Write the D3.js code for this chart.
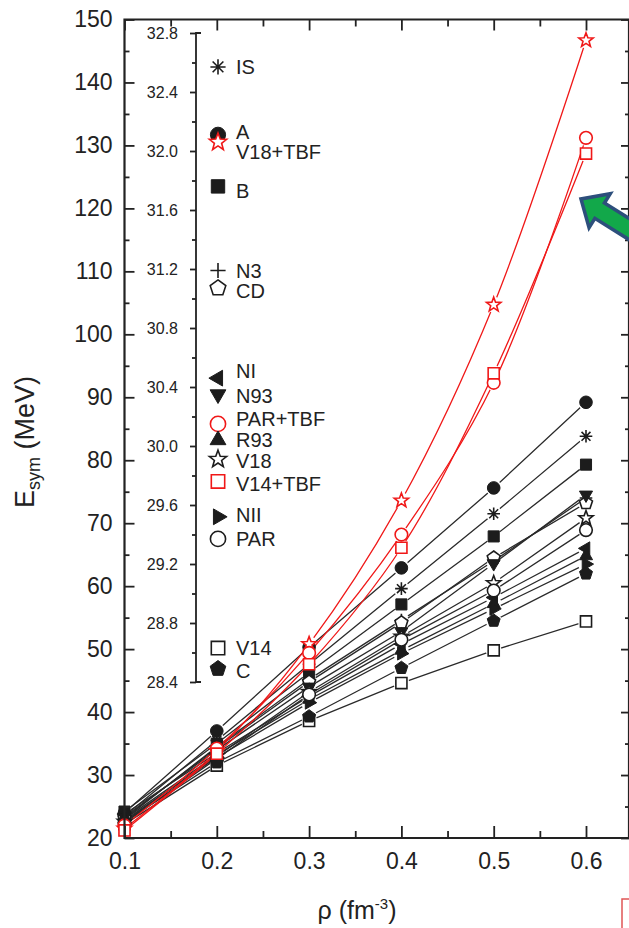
<!DOCTYPE html>
<html><head><meta charset="utf-8">
<script src="https://cdn.jsdelivr.net/npm/d3@7"></script>
<style>
html,body{margin:0;padding:0;background:#fff;}
svg{display:block;font-family:"Liberation Sans",Arial,sans-serif;}
</style></head>
<body>
<script>
// ---------------- data ----------------
const rho = [0.1, 0.2, 0.3, 0.4, 0.5, 0.6];
const models = ["IS","A","V18+TBF","B","N3","CD","NI","N93","PAR+TBF","R93","V18","V14+TBF","NII","PAR","V14","C"];
// E_sym at saturation (inner scale of the legend)
const s0 = [32.57,32.11,32.06,31.76,31.19,31.07,30.46,30.35,30.15,30.04,29.91,29.76,29.52,29.37,28.63,28.49];
const esymIS     = [23.5, 35.5, 47.6, 59.6, 71.5, 83.8];
const esymA      = [24.0, 37.0, 50.3, 62.9, 75.6, 89.2];
const esymV18TBF = [21.5, 33.8, 50.8, 73.6, 104.7, 146.7];
const esymB      = [24.2, 35.0, 46.3, 57.1, 67.9, 79.3];
const esymN3     = [23.0, 34.5, 45.2, 54.6, 64.0, 74.0];
const esymCD     = [23.2, 34.3, 44.8, 54.2, 64.5, 73.2];
const esymNI     = [23.8, 33.5, 42.5, 50.8, 58.2, 66.0];
const esymN93    = [23.4, 34.0, 44.0, 52.8, 63.6, 74.5];
const esymPARTBF = [22.0, 34.2, 49.4, 68.2, 92.3, 131.2];
const esymR93    = [23.0, 33.2, 42.0, 49.8, 57.2, 64.8];
const esymV18    = [22.6, 33.0, 43.2, 52.0, 60.5, 70.8];
const esymV14TBF = [21.2, 33.4, 47.6, 66.1, 93.8, 128.7];
const esymNII    = [22.8, 32.8, 41.5, 49.3, 56.4, 63.5];
const esymPAR    = [22.4, 32.6, 42.8, 51.5, 59.3, 68.9];
const esymV14    = [22.2, 31.5, 38.6, 44.6, 49.8, 54.4];
const esymC      = [22.6, 32.0, 39.3, 47.0, 54.5, 62.0];
const series = [esymIS, esymA, esymV18TBF, esymB, esymN3, esymCD, esymNI, esymN93,
                esymPARTBF, esymR93, esymV18, esymV14TBF, esymNII, esymPAR, esymV14, esymC];
const symbols = ["asterisk","circle","star","square","plus","pentagon","triLeft","triDown",
                 "circle","triUp","star","square","triRight","circle","square","pentagon"];
const filled  = [true,true,false,true,false,false,true,true,false,true,false,false,true,false,false,true];
const isTBF   = [false,false,true,false,false,false,false,false,true,false,false,true,false,false,false,false];
const labelNudge = [0,-3,10,4,0,3,-7,1,-5,0,2,2,-2,0,0,2];
const yTicks = d3.range(20, 151, 10);
const xTicks = [0.1, 0.2, 0.3, 0.4, 0.5, 0.6];
const innerTicks = [28.4, 28.8, 29.2, 29.6, 30.0, 30.4, 30.8, 31.2, 31.6, 32.0, 32.4, 32.8];

// ---------------- layout ----------------
const W = 629, H = 928;
const L = 124.5, T = 19.5, B = 838, R = 629;
const RED = "#f01818", BLK = "#1c1c1c";

const svg = d3.select("body").append("svg").attr("width", W).attr("height", H);
const x = d3.scaleLinear().domain([0.1, 0.6]).range([L, 586]);
const y = d3.scaleLinear().domain([20, 150]).range([B, T]);
const yi = d3.scaleLinear().domain([28.4, 32.8]).range([682, 33]);

function symbolPath(type, r) {
  const p = d3.path();
  const poly = (n, R0, a0) => {
    for (let k = 0; k < n; k++) {
      const a = (a0 + k * 360 / n) * Math.PI / 180;
      const px = R0 * Math.cos(a), py = R0 * Math.sin(a);
      k === 0 ? p.moveTo(px, py) : p.lineTo(px, py);
    }
    p.closePath();
  };
  switch (type) {
    case "circle": p.arc(0, 0, r, 0, 2 * Math.PI); p.closePath(); break;
    case "square": { const s = r * 0.88; p.rect(-s, -s, 2 * s, 2 * s); break; }
    case "triUp": poly(3, r * 1.2, -90); break;
    case "triDown": poly(3, r * 1.2, 90); break;
    case "triLeft": poly(3, r * 1.2, 180); break;
    case "triRight": poly(3, r * 1.2, 0); break;
    case "pentagon": poly(5, r * 1.08, -90); break;
    case "star": {
      for (let k = 0; k < 10; k++) {
        const a = (-90 + k * 36) * Math.PI / 180;
        const rr = k % 2 === 0 ? r * 1.2 : r * 0.5;
        k === 0 ? p.moveTo(rr * Math.cos(a), rr * Math.sin(a)) : p.lineTo(rr * Math.cos(a), rr * Math.sin(a));
      }
      p.closePath(); break;
    }
    case "plus": p.moveTo(-r, 0); p.lineTo(r, 0); p.moveTo(0, -r); p.lineTo(0, r); break;
    case "asterisk":
      [0, 45, 90, 135].forEach(d => {
        const a = d * Math.PI / 180;
        p.moveTo(-r * Math.cos(a), -r * Math.sin(a)); p.lineTo(r * Math.cos(a), r * Math.sin(a));
      });
      break;
  }
  return p.toString();
}
function drawSymbol(g, i, cx, cy, r) {
  const col = isTBF[i] ? RED : BLK;
  const t = symbols[i];
  const el = g.append("path").attr("d", symbolPath(t, r)).attr("transform", `translate(${cx},${cy})`);
  if (t === "plus" || t === "asterisk") {
    el.attr("fill", "none").attr("stroke", col).attr("stroke-width", 1.6);
  } else if (filled[i]) {
    el.attr("fill", col).attr("stroke", col).attr("stroke-width", 1);
  } else {
    el.attr("fill", "#fff").attr("stroke", col).attr("stroke-width", 1.6);
  }
}

// ---------------- masks (gaps of lines around symbols) ----------------
const defs = svg.append("defs");
series.forEach((vals, i) => {
  const m = defs.append("mask").attr("id", "m" + i).attr("maskUnits", "userSpaceOnUse")
    .attr("x", 0).attr("y", 0).attr("width", W).attr("height", H);
  m.append("rect").attr("width", W).attr("height", H).attr("fill", "#fff");
  vals.forEach((v, k) => m.append("circle").attr("cx", x(rho[k])).attr("cy", y(v)).attr("r", 8).attr("fill", "#000"));
});

// ---------------- lines ----------------
const lineLin = d3.line().x((d, k) => x(rho[k])).y(d => y(d));
const lineCurve = d3.line().x((d, k) => x(rho[k])).y(d => y(d)).curve(d3.curveCatmullRom.alpha(0.5));
const gl = svg.append("g");
series.forEach((vals, i) => {
  if (isTBF[i]) return;
  gl.append("path").attr("d", lineLin(vals)).attr("fill", "none").attr("stroke", "#2a2a2a")
    .attr("stroke-width", 1.3).attr("mask", `url(#m${i})`);
});
series.forEach((vals, i) => {
  if (!isTBF[i]) return;
  gl.append("path").attr("d", lineCurve(vals)).attr("fill", "none").attr("stroke", RED)
    .attr("stroke-width", 1.3).attr("mask", `url(#m${i})`);
});

// ---------------- markers ----------------
const gm = svg.append("g");
[false, true].forEach(red => {
  series.forEach((vals, i) => {
    if (isTBF[i] !== red) return;
    vals.forEach((v, k) => drawSymbol(gm, i, x(rho[k]), y(v), 6.3));
  });
});

// ---------------- axes ----------------
const axCol = "#222";
function styleAxis(g) {
  g.select(".domain").remove();
  g.selectAll("line").attr("stroke", axCol).attr("stroke-width", 1.8);
  g.selectAll("text").attr("fill", axCol).attr("font-family", '"Liberation Sans",Arial,sans-serif');
}
// left
svg.append("g").attr("transform", `translate(${L},0)`)
  .call(d3.axisLeft(y).tickValues(yTicks).tickSize(-10).tickPadding(12).tickFormat(d3.format("d")))
  .call(styleAxis).call(g => g.selectAll("text").attr("font-size", 23));
svg.append("g").attr("transform", `translate(${L},0)`)
  .call(d3.axisLeft(y).tickValues(yTicks.slice(0, -1).map(v => v + 5)).tickSize(-5).tickFormat(""))
  .call(styleAxis);
// right (inward ticks)
svg.append("g").attr("transform", `translate(${R},0)`)
  .call(d3.axisRight(y).tickValues(yTicks).tickSize(-8).tickFormat("")).call(styleAxis);
svg.append("g").attr("transform", `translate(${R},0)`)
  .call(d3.axisRight(y).tickValues(yTicks.slice(0, -1).map(v => v + 5)).tickSize(-4).tickFormat("")).call(styleAxis);
// bottom
svg.append("g").attr("transform", `translate(0,${B})`)
  .call(d3.axisBottom(x).tickValues(xTicks).tickSize(-12).tickPadding(15).tickFormat(d3.format(".1f")))
  .call(styleAxis).call(g => g.selectAll("text").attr("font-size", 23));
svg.append("g").attr("transform", `translate(0,${B})`)
  .call(d3.axisBottom(x).tickValues(xTicks.map(v => v + 0.05)).tickSize(-7).tickFormat("")).call(styleAxis);
// top
svg.append("g").attr("transform", `translate(0,${T})`)
  .call(d3.axisTop(x).tickValues(xTicks).tickSize(-11).tickFormat("")).call(styleAxis);
svg.append("g").attr("transform", `translate(0,${T})`)
  .call(d3.axisTop(x).tickValues(xTicks.map(v => v + 0.05)).tickSize(-7).tickFormat("")).call(styleAxis);
// frame
svg.append("path").attr("d", `M${R},${T}H${L}V${B}H${R}V${T}`).attr("fill", "none")
  .attr("stroke", axCol).attr("stroke-width", 2.2);

// ---------------- inner scale + legend ----------------
const IX = 196;
svg.append("g").attr("transform", `translate(${IX},0)`)
  .call(d3.axisLeft(yi).tickValues(innerTicks).tickSize(6).tickPadding(12).tickFormat(d3.format(".1f")))
  .call(styleAxis).call(g => g.selectAll("text").attr("font-size", 16));
svg.append("g").attr("transform", `translate(${IX},0)`)
  .call(d3.axisLeft(yi).tickValues(innerTicks.slice(0, -1).map(v => v + 0.2)).tickSize(4).tickFormat(""))
  .call(styleAxis);
svg.append("path").attr("d", `M${IX + 5},${yi(32.8)}H${IX}V${yi(28.4)}H${IX + 5}`)
  .attr("fill", "none").attr("stroke", axCol).attr("stroke-width", 1.8);

const glg = svg.append("g");
models.forEach((name, i) => {
  drawSymbol(glg, i, 218, yi(s0[i]), 7.6);
});
models.forEach((name, i) => {
  glg.append("text").attr("x", 236).attr("y", yi(s0[i]) + labelNudge[i])
    .attr("dy", "0.36em").attr("font-size", 20).attr("fill", axCol).text(name);
});

// ---------------- axis titles ----------------
const yt = svg.append("text").attr("transform", "translate(34,442) rotate(-90)")
  .attr("text-anchor", "middle").attr("font-size", 27).attr("fill", axCol);
yt.append("tspan").text("E");
yt.append("tspan").attr("font-size", 18).attr("dy", 6).text("sym");
yt.append("tspan").attr("dy", -6).text(" (MeV)");

const xt = svg.append("text").attr("x", 357).attr("y", 919)
  .attr("text-anchor", "middle").attr("font-size", 25).attr("fill", axCol);
xt.append("tspan").text("ρ (fm");
xt.append("tspan").attr("font-size", 15).attr("dy", -10).text("-3");
xt.append("tspan").attr("dy", 10).text(")");

// ---------------- annotations (arrow, box) ----------------
(function () {
  const tip = [581, 199], ang = 32 * Math.PI / 180;
  const u = [Math.cos(ang), Math.sin(ang)], n = [-Math.sin(ang), Math.cos(ang)];
  const hl = 22, hw = 20, sw = 9, tail = 90;
  const bx = tip[0] + hl * u[0], by = tip[1] + hl * u[1];
  const pt = (cx, cy, s) => [cx + s * n[0], cy + s * n[1]];
  const ex = bx + tail * u[0], ey = by + tail * u[1];
  const pts = [tip, pt(bx, by, hw), pt(bx, by, sw), pt(ex, ey, sw), pt(ex, ey, -sw), pt(bx, by, -sw), pt(bx, by, -hw)];
  svg.append("path").attr("d", d3.line()(pts) + "Z").attr("fill", "#12a84a")
    .attr("stroke", "#2d4f7c").attr("stroke-width", 3.5).attr("stroke-linejoin", "miter");
})();
svg.append("rect").attr("x", 622).attr("y", 899).attr("width", 40).attr("height", 60)
  .attr("fill", "#fff").attr("stroke", "#e05555").attr("stroke-width", 1.5);
</script>
</body></html>
